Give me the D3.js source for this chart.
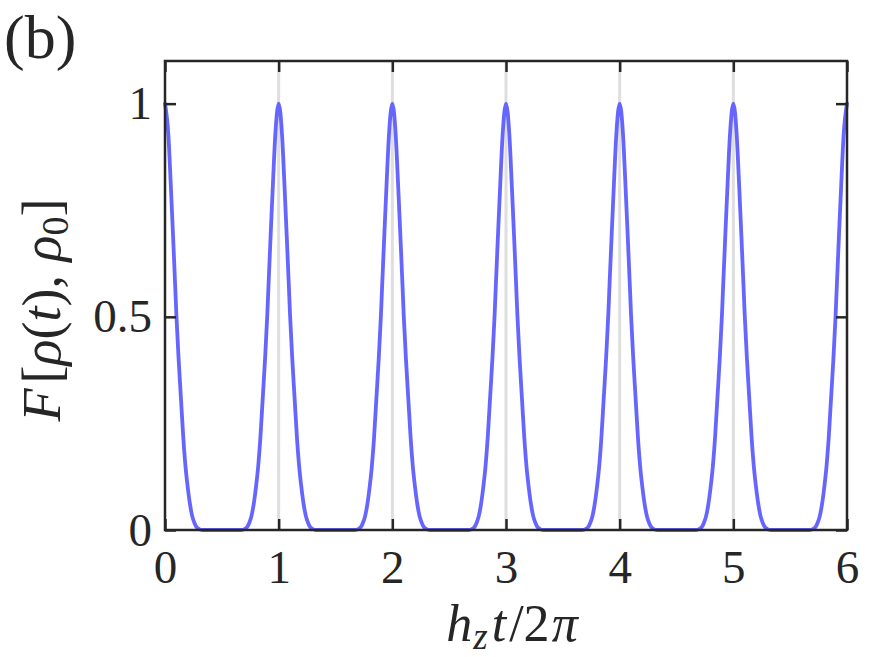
<!DOCTYPE html>
<html>
<head>
<meta charset="utf-8">
<script src="https://cdn.jsdelivr.net/npm/d3@7"></script>
<style>
  html, body { margin: 0; padding: 0; background: #fff; }
  svg { display: block; }
  text { font-family: "Liberation Serif", "DejaVu Serif", serif; fill: #262626; }
</style>
</head>
<body>
<svg id="chart" width="872" height="657"></svg>
<script>
// ---- data ----
const xTicks = [0, 1, 2, 3, 4, 5, 6];
const yTicks = [0, 0.5, 1];
const yTickLabels = ["0", "0.5", "1"];
const gridLines = [1, 2, 3, 4, 5];

const timeValues = [
  0.00, 0.03, 0.05, 0.07, 0.09, 0.10, 0.12, 0.14, 0.16, 0.18, 0.20, 0.22, 0.24, 0.26, 0.28, 0.30, 0.33,
  0.67, 0.70, 0.72, 0.74, 0.76, 0.78, 0.80, 0.82, 0.84, 0.86, 0.88, 0.90, 0.91, 0.93, 0.95, 0.97,
  1.00, 1.03, 1.05, 1.07, 1.09, 1.10, 1.12, 1.14, 1.16, 1.18, 1.20, 1.22, 1.24, 1.26, 1.28, 1.30, 1.33,
  1.67, 1.70, 1.72, 1.74, 1.76, 1.78, 1.80, 1.82, 1.84, 1.86, 1.88, 1.90, 1.91, 1.93, 1.95, 1.97,
  2.00, 2.03, 2.05, 2.07, 2.09, 2.10, 2.12, 2.14, 2.16, 2.18, 2.20, 2.22, 2.24, 2.26, 2.28, 2.30, 2.33,
  2.67, 2.70, 2.72, 2.74, 2.76, 2.78, 2.80, 2.82, 2.84, 2.86, 2.88, 2.90, 2.91, 2.93, 2.95, 2.97,
  3.00, 3.03, 3.05, 3.07, 3.09, 3.10, 3.12, 3.14, 3.16, 3.18, 3.20, 3.22, 3.24, 3.26, 3.28, 3.30, 3.33,
  3.67, 3.70, 3.72, 3.74, 3.76, 3.78, 3.80, 3.82, 3.84, 3.86, 3.88, 3.90, 3.91, 3.93, 3.95, 3.97,
  4.00, 4.03, 4.05, 4.07, 4.09, 4.10, 4.12, 4.14, 4.16, 4.18, 4.20, 4.22, 4.24, 4.26, 4.28, 4.30, 4.33,
  4.67, 4.70, 4.72, 4.74, 4.76, 4.78, 4.80, 4.82, 4.84, 4.86, 4.88, 4.90, 4.91, 4.93, 4.95, 4.97,
  5.00, 5.03, 5.05, 5.07, 5.09, 5.10, 5.12, 5.14, 5.16, 5.18, 5.20, 5.22, 5.24, 5.26, 5.28, 5.30, 5.33,
  5.67, 5.70, 5.72, 5.74, 5.76, 5.78, 5.80, 5.82, 5.84, 5.86, 5.88, 5.90, 5.91, 5.93, 5.95, 5.97,
  6.00
];

const fidelityValues = [
  1.000, 0.925, 0.815, 0.695, 0.570, 0.505, 0.400, 0.310, 0.220, 0.150, 0.100, 0.060, 0.032, 0.016, 0.006, 0.002, 0.000,
  0.000, 0.002, 0.006, 0.016, 0.032, 0.060, 0.100, 0.150, 0.220, 0.310, 0.400, 0.505, 0.570, 0.695, 0.815, 0.925,
  1.000, 0.925, 0.815, 0.695, 0.570, 0.505, 0.400, 0.310, 0.220, 0.150, 0.100, 0.060, 0.032, 0.016, 0.006, 0.002, 0.000,
  0.000, 0.002, 0.006, 0.016, 0.032, 0.060, 0.100, 0.150, 0.220, 0.310, 0.400, 0.505, 0.570, 0.695, 0.815, 0.925,
  1.000, 0.925, 0.815, 0.695, 0.570, 0.505, 0.400, 0.310, 0.220, 0.150, 0.100, 0.060, 0.032, 0.016, 0.006, 0.002, 0.000,
  0.000, 0.002, 0.006, 0.016, 0.032, 0.060, 0.100, 0.150, 0.220, 0.310, 0.400, 0.505, 0.570, 0.695, 0.815, 0.925,
  1.000, 0.925, 0.815, 0.695, 0.570, 0.505, 0.400, 0.310, 0.220, 0.150, 0.100, 0.060, 0.032, 0.016, 0.006, 0.002, 0.000,
  0.000, 0.002, 0.006, 0.016, 0.032, 0.060, 0.100, 0.150, 0.220, 0.310, 0.400, 0.505, 0.570, 0.695, 0.815, 0.925,
  1.000, 0.925, 0.815, 0.695, 0.570, 0.505, 0.400, 0.310, 0.220, 0.150, 0.100, 0.060, 0.032, 0.016, 0.006, 0.002, 0.000,
  0.000, 0.002, 0.006, 0.016, 0.032, 0.060, 0.100, 0.150, 0.220, 0.310, 0.400, 0.505, 0.570, 0.695, 0.815, 0.925,
  1.000, 0.925, 0.815, 0.695, 0.570, 0.505, 0.400, 0.310, 0.220, 0.150, 0.100, 0.060, 0.032, 0.016, 0.006, 0.002, 0.000,
  0.000, 0.002, 0.006, 0.016, 0.032, 0.060, 0.100, 0.150, 0.220, 0.310, 0.400, 0.505, 0.570, 0.695, 0.815, 0.925,
  1.000
];

// ---- layout ----
const plot = { left: 165, right: 847, top: 61, bottom: 530 };
const svg = d3.select("#chart");

const x = d3.scaleLinear().domain([0, 6]).range([plot.left, plot.right]);
const y = d3.scaleLinear().domain([0, 1.1]).range([plot.bottom, plot.top]);

const axisColor = "#262626";
const tickLen = 11;

// grid lines at integer times
svg.append("g").selectAll("line").data(gridLines).join("line")
  .attr("x1", d => x(d)).attr("x2", d => x(d))
  .attr("y1", plot.top).attr("y2", plot.bottom)
  .attr("stroke", "#dedede").attr("stroke-width", 3);

// curve
const series = timeValues.map((t, i) => ({ t, f: fidelityValues[i] }));
const line = d3.line().x(d => x(d.t)).y(d => y(d.f)).curve(d3.curveMonotoneX);

svg.append("path")
  .datum(series)
  .attr("d", line)
  .attr("fill", "none")
  .attr("stroke", "#6666ff")
  .attr("stroke-width", 3.8)
  .attr("stroke-linejoin", "round")
  .attr("stroke-linecap", "round");

// axes (inward ticks on all sides)
function styleAxis(g) {
  g.select(".domain").remove();
  g.selectAll(".tick line").attr("stroke", axisColor).attr("stroke-width", 2.5);
}

const fontSize = 47;

const gBottom = svg.append("g")
  .attr("transform", `translate(0,${plot.bottom})`)
  .call(d3.axisBottom(x).tickValues(xTicks).tickFormat(d3.format("d"))
    .tickSizeInner(-tickLen).tickSizeOuter(0).tickPadding(20));
styleAxis(gBottom);
gBottom.selectAll("text").attr("font-size", fontSize).attr("fill", axisColor)
  .style("font-family", "'Liberation Serif', serif");

const gTop = svg.append("g")
  .attr("transform", `translate(0,${plot.top})`)
  .call(d3.axisTop(x).tickValues(xTicks).tickFormat("")
    .tickSizeInner(-tickLen).tickSizeOuter(0));
styleAxis(gTop);

const gLeft = svg.append("g")
  .attr("transform", `translate(${plot.left},0)`)
  .call(d3.axisLeft(y).tickValues(yTicks).tickFormat((d, i) => yTickLabels[i])
    .tickSizeInner(-tickLen).tickSizeOuter(0).tickPadding(13));
styleAxis(gLeft);
gLeft.selectAll("text").attr("font-size", fontSize).attr("fill", axisColor)
  .style("font-family", "'Liberation Serif', serif");

const gRight = svg.append("g")
  .attr("transform", `translate(${plot.right},0)`)
  .call(d3.axisRight(y).tickValues(yTicks).tickFormat("")
    .tickSizeInner(-tickLen).tickSizeOuter(0));
styleAxis(gRight);

// frame
svg.append("rect")
  .attr("x", plot.left).attr("y", plot.top)
  .attr("width", plot.right - plot.left).attr("height", plot.bottom - plot.top)
  .attr("fill", "none").attr("stroke", axisColor).attr("stroke-width", 2.5);

// x-axis title: h_z t / 2π
const xt = svg.append("text")
  .attr("x", 512).attr("y", 641)
  .attr("text-anchor", "middle").attr("font-size", 52);
xt.append("tspan").attr("font-style", "italic").text("h");
xt.append("tspan").attr("font-style", "italic").attr("font-size", 37).attr("dy", 8).attr("dx", 1).text("z");
xt.append("tspan").attr("font-style", "italic").attr("dy", -8).attr("dx", 4).text("t");
xt.append("tspan").attr("dx", 3).text("/2");
xt.append("tspan").attr("font-style", "italic").attr("dx", 2).text("π");

// y-axis title: F[ρ(t), ρ0]
const yt = svg.append("text")
  .attr("transform", `translate(60,${310}) rotate(-90)`)
  .attr("text-anchor", "middle").attr("font-size", 54);
yt.append("tspan").attr("font-style", "italic").text("F");
yt.append("tspan").attr("dx", 5).text("[");
yt.append("tspan").attr("font-style", "italic").text("ρ");
yt.append("tspan").text("(");
yt.append("tspan").attr("font-style", "italic").text("t");
yt.append("tspan").text("), ");
yt.append("tspan").attr("font-style", "italic").text("ρ");
yt.append("tspan").attr("font-size", 38).attr("dy", 8).text("0");
yt.append("tspan").attr("dy", -8).text("]");

// panel label
svg.append("text").attr("x", 4).attr("y", 58).attr("font-size", 62).text("(b)");
</script>
</body>
</html>
